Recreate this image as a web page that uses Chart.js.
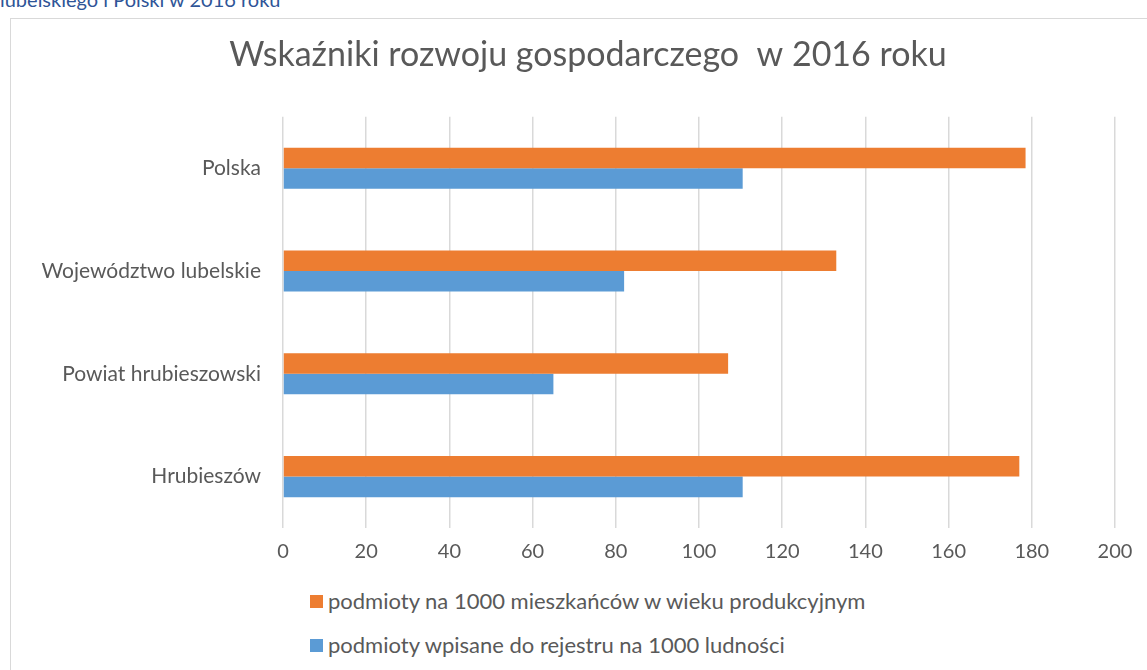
<!DOCTYPE html>
<html lang="pl">
<head>
  <meta charset="UTF-8">
  <title>Wskaźniki rozwoju gospodarczego</title>
  <style>
    body {
      margin: 0;
      width: 1147px;
      height: 670px;
      overflow: hidden;
      background: #fff;
      font-family: Lato, "Liberation Sans", sans-serif;
      position: relative;
    }
    .caption {
      position: absolute;
      left: 0;
      top: -13px;
      color: #2f5597;
      font-size: 20px;
      line-height: 24px;
    }
    .frame {
      position: absolute;
      left: 10px;
      top: 18px;
      width: 1160px;
      height: 700px;
      border: 1px solid #d9d9d9;
    }
    .chart-box {
      position: absolute;
      left: 11px;
      top: 19px;
      width: 1154px;
      height: 557px;
    }
    .legend {
      position: absolute;
      left: 310px;
      top: 587px;
      color: #595959;
      font-size: 22px;
      line-height: 28px;
    }
    .legend div {
      height: 44px;
      display: flex;
      align-items: flex-start;
    }
    .legend span.box {
      display: inline-block;
      width: 13px;
      height: 13px;
      margin-right: 5px;
      margin-top: 8px;
    }
  </style>
</head>
<body>

<div class="caption">lubelskiego i Polski w 2016 roku</div>
<div class="frame"></div>
<div class="chart-box"><canvas id="chart"></canvas></div>
<div class="legend" id="legend"></div>

<script src="https://cdn.jsdelivr.net/npm/chart.js"></script>
<script>
  // dane
  const categories = ['Polska', 'Województwo lubelskie', 'Powiat hrubieszowski', 'Hrubieszów'];
  const seriesNames = [
    'podmioty na 1000 mieszkańców w wieku produkcyjnym',
    'podmioty wpisane do rejestru na 1000 ludności'
  ];
  const perWorkingAge = [178.5, 133, 107, 177];
  const perPopulation = [110.5, 82, 65, 110.5];
  const xTicks = [0, 20, 40, 60, 80, 100, 120, 140, 160, 180, 200];
  const colors = ['#ed7d31', '#5b9bd5'];

  const textColor = '#595959';
  const fontFamily = 'Lato, "Liberation Sans", sans-serif';

  const chart = new Chart(document.getElementById('chart'), {
    type: 'bar',
    data: {
      labels: categories,
      datasets: [
        { label: seriesNames[0], data: perWorkingAge, backgroundColor: colors[0] },
        { label: seriesNames[1], data: perPopulation, backgroundColor: colors[1] }
      ]
    },
    options: {
      indexAxis: 'y',
      responsive: true,
      maintainAspectRatio: false,
      animation: false,
      categoryPercentage: 0.4,
      barPercentage: 1.0,
      layout: { padding: { top: 10, right: 0, bottom: 0, left: 0 } },
      plugins: {
        legend: { display: false },
        tooltip: { enabled: false },
        title: {
          display: true,
          text: 'Wskaźniki rozwoju gospodarczego  w 2016 roku',
          color: textColor,
          font: { family: fontFamily, size: 34, weight: 'normal', lineHeight: 1.2 },
          padding: { top: 6, bottom: 41 }
        }
      },
      scales: {
        x: {
          min: 0,
          max: 200,
          afterBuildTicks: s => { s.ticks = xTicks.map(v => ({ value: v })); },
          grid: { color: '#d9d9d9', lineWidth: 1.5, drawTicks: false },
          border: { display: false },
          ticks: { color: textColor, font: { family: fontFamily, size: 20 }, padding: 12 }
        },
        y: {
          afterFit: s => { s.width = 272; },
          grid: { display: false, drawTicks: false },
          border: { display: false },
          ticks: { color: textColor, font: { family: fontFamily, size: 21 }, padding: 22 }
        },
        // pusta oś po prawej, żeby zostawić miejsce jak w oryginale
        yRight: {
          type: 'category',
          position: 'right',
          axis: 'y',
          afterFit: s => { s.width = 50; },
          grid: { display: false, drawTicks: false },
          border: { display: false },
          ticks: { display: false }
        }
      }
    }
  });

  // legenda pionowa jak w oryginale
  const legend = document.getElementById('legend');
  chart.data.datasets.forEach(ds => {
    const row = document.createElement('div');
    row.innerHTML = '<span class="box" style="background:' + ds.backgroundColor + '"></span>' + ds.label;
    legend.appendChild(row);
  });
</script>
</body>
</html>
